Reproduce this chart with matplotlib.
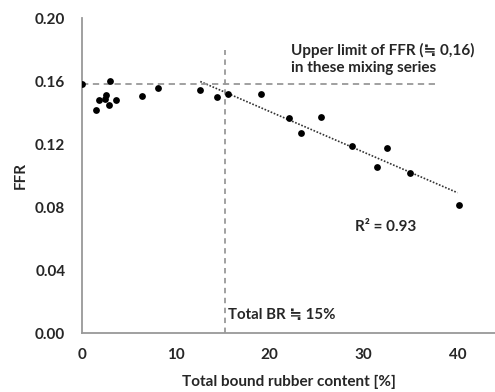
import matplotlib
matplotlib.use("Agg")
import matplotlib.pyplot as plt
import numpy as np

plt.rcParams['font.family'] = ['Lato', 'DejaVu Sans']
plt.rcParams['font.weight'] = 'bold'

bound_rubber = [0.0, 1.5, 1.85, 2.4, 2.6, 2.9, 3.0, 3.6, 6.4, 8.1, 12.6, 14.4, 15.5,
                19.1, 22.0, 23.3, 25.5, 28.8, 31.4, 32.5, 34.9, 40.2]
ffr = [0.158, 0.1416, 0.148, 0.1487, 0.151, 0.145, 0.160, 0.148, 0.1507, 0.1553, 0.154,
       0.150, 0.152, 0.1515, 0.1367, 0.1268, 0.1371, 0.1189, 0.1051, 0.1175, 0.1014, 0.0813]
x_ticks = [0, 10, 20, 30, 40]
y_ticks = [0.00, 0.04, 0.08, 0.12, 0.16, 0.20]
upper_limit = 0.158
br_limit = 15.2
fit_start = 12.6
fit_end = 40.0

fig = plt.figure(figsize=(4.95, 3.92), dpi=100)
ax = fig.add_axes([0.1657, 0.1505, 0.8343, 0.8035])
ax.set_xlim(0, 44)
ax.set_ylim(0, 0.20)

ax.scatter(bound_rubber, ffr, s=24, color='black', zorder=3, linewidths=0)

# trend line for points beyond ~12%
bx = np.array(bound_rubber)
fy = np.array(ffr)
mask = bx >= 12
k, b = np.polyfit(bx[mask], fy[mask], 1)
xs = np.array([fit_start, fit_end])
ax.plot(xs, k * xs + b, linestyle=(0, (1, 1)), color='#333333', lw=1.2, zorder=2)

ax.plot([0, 38], [upper_limit, upper_limit], linestyle=(0, (3.5, 2.5)), color='#999999', lw=1.3)
ax.plot([br_limit, br_limit], [0, 0.18], linestyle=(0, (3, 2.5)), color='#999999', lw=1.3)

tc = '#262626'
ax.text(22.3, 0.174, 'Upper limit of FFR (≒ 0,16)\nin these mixing series', fontsize=11,
        fontweight='bold', color=tc, va='center', ha='left', linespacing=1.3)
ax.text(29.1, 0.0675, 'R² = 0.93', fontsize=11, fontweight='bold', color=tc,
        va='center', ha='left')
ax.text(15.6, 0.0114, 'Total BR ≒ 15%', fontsize=10.8, fontweight='bold', color=tc,
        va='center', ha='left')

ax.set_xticks(x_ticks)
ax.set_xticklabels([str(v) for v in x_ticks])
ax.set_yticks(y_ticks)
ax.set_yticklabels([f'{v:.2f}' for v in y_ticks])
ax.tick_params(length=0, labelsize=11, colors=tc)
ax.tick_params(axis='y', pad=12)
ax.tick_params(axis='x', pad=11)
for lab in ax.get_xticklabels() + ax.get_yticklabels():
    lab.set_fontweight('bold')

for s in ['top', 'right']:
    ax.spines[s].set_visible(False)
for s in ['left', 'bottom']:
    ax.spines[s].set_color('#999999')
    ax.spines[s].set_linewidth(1.3)

ax.set_xlabel('Total bound rubber content [%]', fontsize=11, fontweight='bold',
              color=tc, labelpad=9)
ax.set_ylabel('FFR', fontsize=11, fontweight='bold', color=tc, labelpad=5)

fig.savefig('out.png', dpi=100)
